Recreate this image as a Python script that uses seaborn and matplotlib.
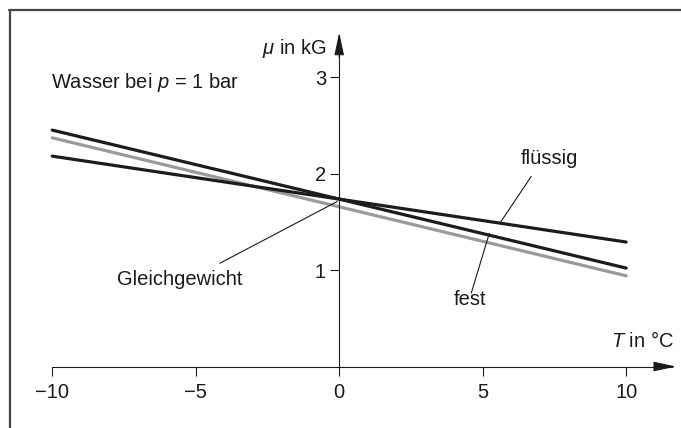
import matplotlib
matplotlib.use("Agg")
import matplotlib.pyplot as plt
from matplotlib.lines import Line2D
import seaborn as sns
import pandas as pd

# ---- data ----
T = [-10, 0, 10]
mu_fest = [2.45, 1.735, 1.02]
mu_fluessig = [2.18, 1.735, 1.29]
mu_grau = [2.37, 1.655, 0.94]
x_ticks = [-10, -5, 0, 5, 10]
x_tick_labels = ["\u221210", "\u22125", "0", "5", "10"]
y_ticks = [1, 2, 3]
y_tick_labels = ["1", "2", "3"]

sns.set_theme(style="white")
plt.rcParams["font.family"] = ["Liberation Sans", "DejaVu Sans"]
plt.rcParams["mathtext.fontset"] = "custom"
plt.rcParams["mathtext.rm"] = "Liberation Sans"
plt.rcParams["mathtext.it"] = "Liberation Sans:italic"

df = pd.DataFrame({
    "T": T * 3,
    "mu": mu_grau + mu_fest + mu_fluessig,
    "phase": ["grau"] * 3 + ["fest"] * 3 + ["flüssig"] * 3,
})

fig = plt.figure(figsize=(6.81, 4.28), dpi=100)
ax = fig.add_axes([0, 0, 1, 1])
ax.set_facecolor("none")

sns.lineplot(data=df, x="T", y="mu", hue="phase",
             palette={"grau": "#9a9a9a", "fest": "#1c1c1c", "flüssig": "#1c1c1c"},
             linewidth=2.3, legend=False, ax=ax, sort=False)

ax.set_xlim(-11.82, 11.91)
ax.set_ylim(-0.637, 3.798)

for s in ["top", "right"]:
    ax.spines[s].set_visible(False)
ax.spines["left"].set_position(("data", 0))
ax.spines["bottom"].set_position(("data", 0))
ax.spines["left"].set_bounds(0, 3.42)
ax.spines["bottom"].set_bounds(-10, 11.6)
for s in ["left", "bottom"]:
    ax.spines[s].set_color("#1a1a1a")
    ax.spines[s].set_linewidth(0.8)

ax.set_xticks(x_ticks)
ax.set_xticklabels(x_tick_labels)
ax.set_yticks(y_ticks)
ax.set_yticklabels(y_tick_labels)
ax.tick_params(axis="both", direction="out", length=6.5, width=0.8,
               colors="#1a1a1a", labelsize=14.5)
ax.tick_params(axis="x", pad=5.5, bottom=True)
ax.tick_params(axis="y", pad=3, left=True)
ax.set_xlabel("")
ax.set_ylabel("")

# arrow heads
ax.annotate("", xy=(0, 3.46), xytext=(0, 3.2),
            arrowprops=dict(arrowstyle="-|>,head_length=1.4,head_width=0.3",
                            color="#1a1a1a", lw=0.8, mutation_scale=10,
                            shrinkA=0, shrinkB=0))
ax.annotate("", xy=(11.74, 0), xytext=(11.0, 0),
            arrowprops=dict(arrowstyle="-|>,head_length=1.4,head_width=0.3",
                            color="#1a1a1a", lw=0.8, mutation_scale=10,
                            shrinkA=0, shrinkB=0))

txt = dict(fontsize=14.5, color="#1a1a1a")
ax.text(-0.45, 3.30, r"$\mu$ in kG", ha="right", va="center", **txt)
ax.text(11.67, 0.264, r"$T$ in °C", ha="right", va="center", **txt)
ax.text(-10.03, 2.94, r"Wasser bei $p$ = 1 bar", ha="left", va="center", **txt)
ax.text(7.32, 2.16, "flüssig", ha="center", va="center", **txt)
ax.text(4.56, 0.69, "fest", ha="center", va="center", **txt)
ax.text(-5.54, 0.90, "Gleichgewicht", ha="center", va="center", **txt)

# leader lines
ax.plot([6.69, 5.61], [1.97, 1.49], color="#1a1a1a", lw=0.8)
ax.plot([4.60, 5.23], [0.76, 1.38], color="#1a1a1a", lw=0.8)
ax.plot([-4.16, -0.07], [1.07, 1.71], color="#1a1a1a", lw=0.8)

# frame (left and top edges)
W, H = 681, 428
fig.add_artist(Line2D([9.5 / W, 9.5 / W], [0, 1 - 9.5 / H], transform=fig.transFigure,
                      color="#444444", lw=1.6))
fig.add_artist(Line2D([8.7 / W, 1], [1 - 9.5 / H, 1 - 9.5 / H], transform=fig.transFigure,
                      color="#444444", lw=1.6))

fig.savefig("out.png", dpi=100)
